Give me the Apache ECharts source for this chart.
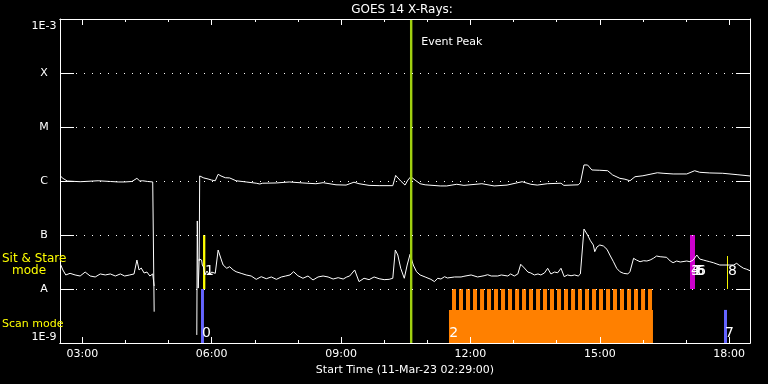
<!DOCTYPE html>
<html><head><meta charset="utf-8">
<script src="https://cdn.jsdelivr.net/npm/echarts@6/dist/echarts.min.js"></script>
<style>html,body{margin:0;padding:0;background:#000}#c{width:768px;height:384px}</style>
</head><body><div id="c"></div>
<script>
const FONT = 'DejaVu Sans';
const chartTitle = 'GOES 14 X-Rays:';
const xAxisTitle = 'Start Time (11-Mar-23 02:29:00)';
const axisStart = '02:29:00', axisEnd = '18:29:00';
const majorTicks = ['03:00','06:00','09:00','12:00','15:00','18:00'];
const minorTicks = ['04:00','05:00','07:00','08:00','10:00','11:00','13:00','14:00','16:00','17:00'];
const yTickLabels = ['1E-9','A','B','C','M','X','1E-3'];
const yMin = 1e-9, yMax = 1e-3;

// Long channel (1-8 A), W/m^2 ; null = data gap
const longTimes = ['02:29:30','02:33','02:39','02:57','03:22','03:39','03:50','03:59','04:09','04:16','04:20','04:24','04:31','04:38','04:40','05:10',
'05:42:40','05:43:20','05:46','05:49','05:55','06:00','06:05','06:09','06:13','06:19','06:25','06:34','06:48','07:02','07:07','07:11','07:30','07:48',
'08:07','08:25','08:35','08:53','09:07','09:18','09:25','09:39','09:53','10:12','10:16','10:23','10:29','10:33','10:37','10:43','10:50','10:57',
'11:18','11:27','11:41','11:51','12:16','12:33','12:51','13:12','13:24','13:33','13:47','14:06','14:10','14:30','14:33','14:38','14:43','14:49',
'15:00','15:11','15:18','15:28','15:35','15:42','15:49','16:00','16:20','16:28','16:42','17:01','17:12','17:19','17:33','17:51','18:11','18:29'];
const longFlux = [1.24e-6,1.12e-6,1.0e-6,9.7e-7,1.01e-6,9.8e-7,9.6e-7,9.6e-7,9.8e-7,1.12e-6,1.0e-6,1.01e-6,9.8e-7,9.6e-7,3.8e-9,null,
3.3e-8,1.24e-6,1.24e-6,1.14e-6,1.09e-6,1.04e-6,1.01e-6,1.33e-6,1.24e-6,1.15e-6,1.14e-6,1.01e-6,9.6e-7,9.1e-7,8.8e-7,9.1e-7,9.2e-7,9.6e-7,
9.2e-7,8.9e-7,9.3e-7,8.5e-7,8.4e-7,9.5e-7,8.9e-7,8.3e-7,8.2e-7,8.2e-7,1.27e-6,1.0e-6,8.4e-7,1.04e-6,1.2e-6,1.04e-6,8.9e-7,8.5e-7,
8.1e-7,8.1e-7,8.7e-7,8.3e-7,8.9e-7,8.1e-7,8.4e-7,9.7e-7,8.7e-7,8.4e-7,8.9e-7,9.1e-7,8.3e-7,8.5e-7,9.3e-7,1.98e-6,1.98e-6,1.6e-6,
1.58e-6,1.55e-6,1.29e-6,1.12e-6,1.08e-6,1.01e-6,1.2e-6,1.25e-6,1.42e-6,1.39e-6,1.35e-6,1.35e-6,1.55e-6,1.45e-6,1.41e-6,1.39e-6,1.31e-6,1.24e-6];

// Short channel (0.5-4 A), W/m^2
const shortTimes = ['02:29:30','02:33','02:37','02:43','02:50','02:57','03:04','03:11','03:18','03:25','03:32','03:39','03:46','03:53','03:59','04:06','04:12',
'04:16','04:19','04:22','04:26','04:30','04:34','04:38','04:40','05:10',
'05:39:20','05:40:00','05:41:20','05:42:40','05:46','05:47','05:48:40','05:50:30','05:53:30','05:57','06:00','06:05','06:09','06:14','06:16','06:21','06:25',
'06:30','06:34','06:41','06:48','06:55','07:02','07:09','07:16','07:23','07:30','07:37','07:43','07:49','07:54','08:00','08:07','08:14','08:21','08:28',
'08:35','08:42','08:49','08:56','09:03','09:08','09:12','09:19','09:25','09:32','09:39','09:46','09:53','10:00','10:07','10:12','10:15:30','10:19',
'10:23','10:28','10:32','10:36','10:40:30','10:45','10:50','10:57','11:05','11:10','11:14:30','11:19','11:24','11:28','11:38','11:47','11:51','12:01',
'12:10','12:19','12:24','12:29','12:38','12:43','12:52','12:56','13:01','13:06','13:10','13:15','13:20','13:24','13:29','13:34','13:38','13:43',
'13:47:30','13:52','13:57','14:01:30','14:06','14:10:30','14:15','14:20','14:25','14:30','14:33','14:38','14:43','14:47','14:51','14:53','14:56',
'15:00','15:05','15:10','15:14','15:19','15:23:30','15:28','15:33','15:39','15:42','15:47','15:51','15:56','16:01','16:05:30','16:10','16:14:30',
'16:19','16:24','16:33','16:38','16:42','16:47','16:52','17:01','17:05:30','17:10','17:15','17:19','17:24','17:29','17:33','17:38','17:43','17:47',
'18:01','18:06','18:10:30','18:15','18:20','18:24:30','18:29'];
const shortFlux = [2.9e-8,2.25e-8,1.82e-8,1.95e-8,1.82e-8,1.74e-8,2.06e-8,1.74e-8,1.67e-8,1.9e-8,1.82e-8,1.9e-8,1.74e-8,1.9e-8,1.74e-8,1.82e-8,1.9e-8,
3.44e-8,2.25e-8,2.45e-8,1.98e-8,2.06e-8,1.74e-8,1.9e-8,1.14e-8,null,
1.41e-9,1.82e-7,1.04e-8,3.59e-8,3.44e-8,2.78e-8,2.55e-8,1.82e-8,2.15e-8,1.82e-8,2.06e-8,1.95e-8,5.27e-8,3.3e-8,2.78e-8,2.42e-8,2.59e-8,
2.25e-8,2.09e-8,1.95e-8,1.82e-8,1.74e-8,1.51e-8,1.69e-8,1.55e-8,1.67e-8,1.51e-8,1.67e-8,1.74e-8,1.82e-8,2.09e-8,1.76e-8,1.58e-8,1.74e-8,1.47e-8,1.67e-8,
1.74e-8,1.67e-8,1.53e-8,1.62e-8,1.53e-8,1.67e-8,1.74e-8,2.25e-8,1.37e-8,1.58e-8,1.49e-8,1.67e-8,1.55e-8,1.49e-8,1.51e-8,1.58e-8,5.27e-8,4.26e-8,
2.42e-8,1.58e-8,2.78e-8,4.39e-8,2.78e-8,2.09e-8,1.82e-8,1.67e-8,1.51e-8,1.37e-8,1.58e-8,1.53e-8,1.69e-8,1.6e-8,1.67e-8,1.67e-8,1.72e-8,1.82e-8,
1.67e-8,1.76e-8,1.84e-8,1.74e-8,1.74e-8,1.82e-8,1.74e-8,1.9e-8,1.74e-8,1.9e-8,2.87e-8,2.45e-8,2.06e-8,1.98e-8,1.82e-8,1.9e-8,1.82e-8,1.98e-8,
2.42e-8,1.9e-8,2.06e-8,2.0e-8,2.42e-8,1.69e-8,1.82e-8,1.76e-8,1.82e-8,1.74e-8,1.9e-8,1.29e-7,1.0e-7,7.84e-8,6.53e-8,4.91e-8,5.99e-8,
6.53e-8,6.26e-8,5.43e-8,4.26e-8,3.2e-8,2.42e-8,2.09e-8,1.95e-8,1.9e-8,2.09e-8,3.7e-8,3.44e-8,3.2e-8,3.34e-8,3.3e-8,3.44e-8,3.7e-8,
4.08e-8,3.96e-8,3.86e-8,3.3e-8,3.07e-8,3.3e-8,3.16e-8,3.3e-8,3.2e-8,3.44e-8,4.26e-8,3.59e-8,3.44e-8,3.3e-8,3.2e-8,3.07e-8,2.9e-8,2.78e-8,
2.78e-8,2.78e-8,2.99e-8,2.67e-8,2.42e-8,2.32e-8,2.18e-8];

// Observation mode blocks
const blockStart = ['05:45:12','05:48:00','11:30:12','17:05:30','17:52:48','17:57:00'];
const blockEnd   = ['05:49:18','05:51:12','16:14:00','17:12:30','17:57:00','17:58:20'];
const blockLo    = [1e-9, 1e-8, 1e-9, 1e-8, 1e-9, 1e-8];
const blockHi    = [1e-8, 1e-7, 4.1e-9, 1e-7, 4.1e-9, 4.1e-8];
const blockColor = ['#6464ff','#ffff00','#ff8000','#cc00cc','#6464ff','#ffff00'];

// Scan-mode dwell starts (orange comb)
const scanStarts = ['11:34:24','11:44:06','11:53:54','12:03:36','12:13:24','12:23:06','12:32:48','12:42:36','12:52:18','13:02:06',
'13:11:48','13:21:30','13:31:18','13:41:00','13:50:42','14:00:30','14:10:12','14:20:00','14:29:42','14:39:24','14:49:12','14:58:54',
'15:08:42','15:18:24','15:28:06','15:37:54','15:47:36','15:57:24','16:07:06'];
const scanDwellMin = 5.6;
const scanLo = 1e-9, scanHi = 1e-8;

// Event labels
const labelText = ['0','1','2','3','4','5','6','7','8'];
const labelTime = ['05:46:36','05:50:40','11:30:36','17:06:54','17:06:54','17:13:54','17:15:18','17:54:18','17:58:24'];
const labelFlux = [1.53e-9,2.11e-8,1.53e-9,2.11e-8,2.11e-8,2.11e-8,2.11e-8,1.53e-9,2.11e-8];

const eventPeakTime = '10:37:36';
const eventPeakText = 'Event Peak';

function toMin(s){const p=s.split(':').map(Number);return p[0]*60+p[1]+(p[2]||0)/60;}
function fmt(m){const h=Math.floor(m/60), mm=Math.round(m-h*60);return String(h).padStart(2,'0')+':'+String(mm).padStart(2,'0');}

const xmin = toMin(axisStart), xmax = toMin(axisEnd);
const majorVals = majorTicks.map(toMin), minorVals = minorTicks.map(toMin);
const white = '#ffffff';

function xAx(pos, vals, len, showLabel, extra){
  return Object.assign({
    type:'value', position:pos, min:xmin, max:xmax, z:10,
    axisLine:{show:true, onZero:false, lineStyle:{color:white, width:1}},
    axisTick:{show:true, inside:true, length:len, customValues:vals, lineStyle:{color:white, width:1}},
    axisLabel:{show:showLabel, customValues:vals, formatter:v=>fmt(v), color:white, fontFamily:FONT, fontSize:11, margin:6},
    splitLine:{show:false}
  }, extra||{});
}
function yAx(pos, showLabel, split){
  return {
    type:'log', logBase:10, position:pos, min:yMin, max:yMax, splitNumber:6, z:10,
    axisLine:{show:true, onZero:false, lineStyle:{color:white, width:1}},
    axisTick:{show:true, inside:true, length:14, lineStyle:{color:white, width:1}},
    minorTick:{show:false},
    axisLabel:{show:showLabel, color:white, fontFamily:FONT, fontSize:11, align:'center', margin:16,
      verticalAlignMinLabel:'bottom',
      formatter:v=>{
        const k = Math.round(Math.log10(v))+9;
        const t = yTickLabels[k] || '';
        return k === 6 ? '{top|' + t + '}' : t;
      },
      rich:{top:{color:white, fontFamily:FONT, fontSize:11, padding:[14,0,0,0]}}
    },
    splitLine:{show:split, lineStyle:{color:white, width:1, type:[1,7]}}
  };
}

const chart = echarts.init(document.getElementById('c'), null, {renderer:'canvas'});
const toPts = (ts, vs) => ts.map((t,i)=>[toMin(t), vs[i]]);

chart.setOption({
  animation:false,
  backgroundColor:'#000000',
  grid:{left:60, right:18, top:19, bottom:41, show:false},
  xAxis:[
    xAx('bottom', majorVals, 6, true, {name:xAxisTitle, nameLocation:'middle', nameGap:20,
      nameTextStyle:{color:white, fontFamily:FONT, fontSize:11, verticalAlign:'top'}}),
    xAx('bottom', minorVals, 3, false),
    xAx('top', majorVals, 6, false),
    xAx('top', minorVals, 3, false)
  ],
  yAxis:[ yAx('left', true, true), yAx('right', false, false) ],
  graphic:[
    {type:'text', x:402, y:10, style:{text:chartTitle, fill:white, font:'12px "DejaVu Sans"', textAlign:'center', textVerticalAlign:'middle'}},
    {type:'text', x:2, y:259, style:{text:'Sit & Stare', fill:'#ffff00', font:'12px "DejaVu Sans"', textAlign:'left', textVerticalAlign:'middle'}, z:20},
    {type:'text', x:12, y:271, style:{text:'mode', fill:'#ffff00', font:'12px "DejaVu Sans"', textAlign:'left', textVerticalAlign:'middle'}, z:20},
    {type:'text', x:2, y:324, style:{text:'Scan mode', fill:'#ffff00', font:'11px "DejaVu Sans"', textAlign:'left', textVerticalAlign:'middle'}, z:20}
  ],
  series:[
    { type:'custom', name:'modes', z:1, silent:true, xAxisIndex:0, yAxisIndex:0,
      data: blockStart.map((s,i)=>[toMin(s), toMin(blockEnd[i]), blockLo[i], blockHi[i]]),
      encode:{x:[0,1], y:[2,3]},
      renderItem:(params, api)=>{
        const a = api.coord([api.value(0), api.value(2)]);
        const b = api.coord([api.value(1), api.value(3)]);
        return {type:'rect', shape:{x:a[0], y:b[1], width:b[0]-a[0], height:a[1]-b[1]}, style:{fill:blockColor[params.dataIndex]}};
      }
    },
    { type:'custom', name:'scan', z:1, silent:true, xAxisIndex:0, yAxisIndex:0,
      data: scanStarts.map(s=>[toMin(s), toMin(s)+scanDwellMin, scanLo, scanHi]),
      encode:{x:[0,1], y:[2,3]},
      renderItem:(params, api)=>{
        const a = api.coord([api.value(0), api.value(2)]);
        const b = api.coord([api.value(1), api.value(3)]);
        return {type:'rect', shape:{x:a[0], y:b[1], width:b[0]-a[0], height:a[1]-b[1]}, style:{fill:'#ff8000'}};
      }
    },
    { type:'line', name:'long', z:2, silent:true, data:toPts(longTimes, longFlux), showSymbol:false, symbol:'none',
      connectNulls:false, lineStyle:{color:white, width:1}, itemStyle:{color:white} },
    { type:'line', name:'short', z:2, silent:true, data:toPts(shortTimes, shortFlux), showSymbol:false, symbol:'none',
      connectNulls:false, lineStyle:{color:white, width:1}, itemStyle:{color:white} },
    { type:'custom', name:'peak', z:3, silent:true,
      data:[[toMin(eventPeakTime)]], encode:{x:0},
      renderItem:(params, api)=>{
        const top = api.coord([api.value(0), yMax]);
        const bot = api.coord([api.value(0), yMin]);
        return {type:'group', children:[
          {type:'line', shape:{x1:top[0], y1:top[1], x2:bot[0], y2:bot[1]}, style:{stroke:'#a0d010', lineWidth:2.4}},
          {type:'text', x:top[0]+10, y:top[1]+23, style:{text:eventPeakText, fill:white, font:'11px "DejaVu Sans"', textAlign:'left', textVerticalAlign:'middle'}}
        ]};
      }
    },
    { type:'custom', name:'labels', z:4, silent:true,
      data: labelText.map((t,i)=>[toMin(labelTime[i]), labelFlux[i]]), encode:{x:0, y:1},
      renderItem:(params, api)=>{
        const p = api.coord([api.value(0), api.value(1)]);
        return {type:'text', x:p[0], y:p[1], style:{text:labelText[params.dataIndex], fill:white, font:'14px "DejaVu Sans"', textAlign:'left', textVerticalAlign:'middle'}};
      }
    }
  ]
});
</script></body></html>
